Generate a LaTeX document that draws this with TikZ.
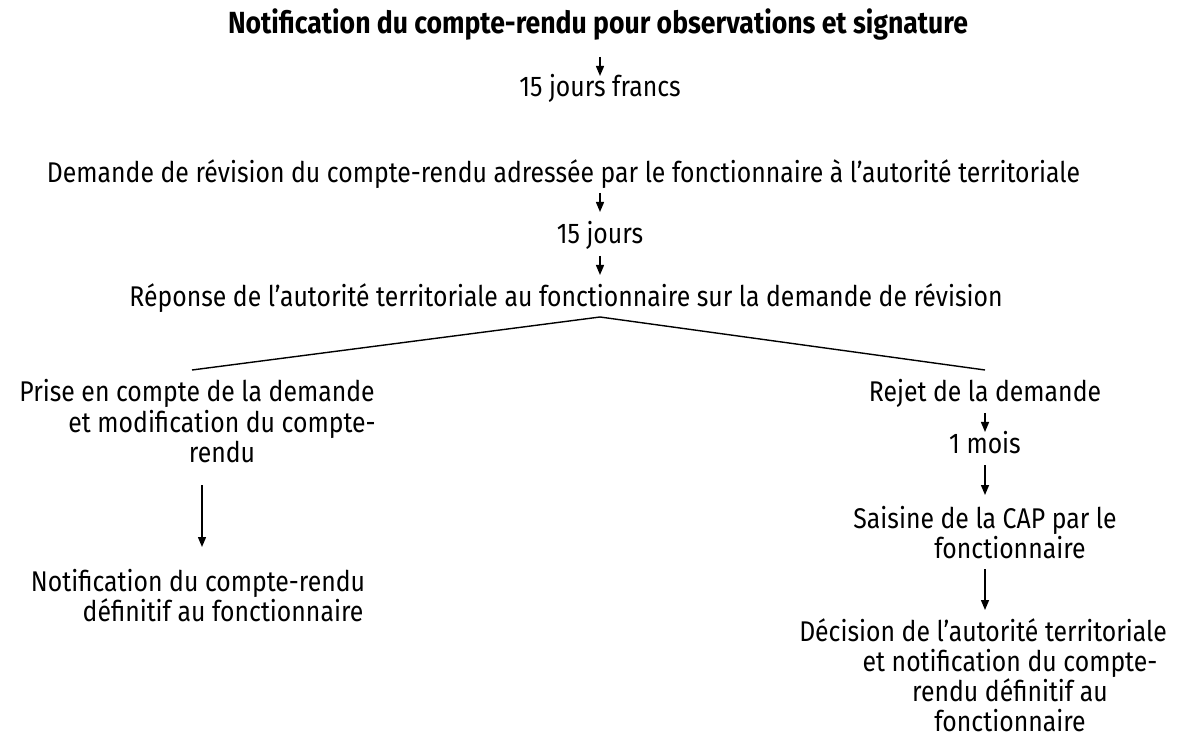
\documentclass[tikz,border=0pt]{standalone}
\usepackage{fontspec}
\setmainfont{Fira Sans}[FakeStretch=0.87]
\usetikzlibrary{arrows.meta,calc}
\newlength\calw
\newlength\calb
\newcommand\fnt{\fontsize{\fsz pt}{15.15pt}\selectfont}
\newcommand\fntb{\fontsize{\fszb pt}{15.15pt}\selectfont\bfseries}
\newcommand\hangtxt[3]{\parbox[t]{#1}{\fnt\centering\hangindent=#2\hangafter=1\relax #3\par}}
\tikzset{
  txt/.style={inner sep=0pt, anchor=base, font=\fnt},
  txtb/.style={inner sep=0pt, anchor=base, font=\fntb},
  conn/.style={line width=0.7pt, -{Triangle[length=5pt,width=4pt]}},
  branch/.style={line width=0.7pt}
}
\AtBeginDocument{%
\settowidth\calw{\normalfont\fontsize{10pt}{12pt}\selectfont Demande de révision du compte-rendu adressée par le fonctionnaire à l’autorité territoriale}%
\settowidth\calb{\normalfont\fontsize{10pt}{12pt}\selectfont\bfseries Notification du compte-rendu pour observations et signature}%
\pgfmathsetmacro\fsz{10*516.5/\calw}%
\pgfmathsetmacro\fszb{10*370/\calb}%
\global\let\fsz\fsz
\global\let\fszb\fszb
}
\begin{document}
\begin{tikzpicture}[x=0.5pt,y=-0.5pt]
\useasboundingbox (0,0) rectangle (1183,737);
\node[txtb] (t1) at (598,34) {Notification du compte-rendu pour observations et signature};
\node[txt] (j1) at (600,97) {15 jours francs};
\node[txt] (d1) at (563.5,183) {Demande de révision du compte-rendu adressée par le fonctionnaire à l’autorité territoriale};
\node[txt] (j2) at (600,244) {15 jours};
\node[txt] (r1) at (566,307) {Réponse de l’autorité territoriale au fonctionnaire sur la demande de révision};
\node[txt] (p1) at (197,402) {\hangtxt{225pt}{25pt}{Prise en compte de la demande\break et modification du compte-\break rendu}};
\node[txt] (n1) at (198,591) {\hangtxt{225pt}{25pt}{Notification du compte-rendu\break définitif au fonctionnaire}};
\node[txt] (rj) at (985,402) {Rejet de la demande};
\node[txt] (m1) at (985,453) {1 mois};
\node[txt] (s1) at (985,528) {\hangtxt{225pt}{25pt}{Saisine de la CAP par le\break fonctionnaire}};
\node[txt] (dc) at (983,641) {\hangtxt{225pt}{27pt}{Décision de l’autorité territoriale\break et notification du compte-\break rendu définitif au\break fonctionnaire}};
\draw[conn] ($(t1.base -| j1.base)+(0,23)$) -- ($(j1.base)+(0,-21)$);
\draw[conn] ($(d1.base -| j2.base)+(0,10)$) -- ($(j2.base)+(0,-32)$);
\draw[conn] ($(j2.base)+(0,12)$) -- ($(r1.base -| j2.base)+(0,-32)$);
\coordinate (apex) at ($(r1.base -| j2.base)+(0,10)$);
\draw[branch] ($(p1.base)+(-5,-32)$) -- (apex) -- ($(rj.base)+(0,-32)$);
\draw[conn] ($(p1.base)+(5,83)$) -- ($(n1.base)+(4,-44)$);
\draw[conn] ($(rj.base)+(0,11)$) -- ($(m1.base)+(0,-21)$);
\draw[conn] ($(m1.base)+(0,12)$) -- ($(s1.base)+(0,-33)$);
\draw[conn] ($(s1.base)+(0,41)$) -- ($(dc.base -| s1.base)+(0,-31)$);
\end{tikzpicture}
\end{document}
